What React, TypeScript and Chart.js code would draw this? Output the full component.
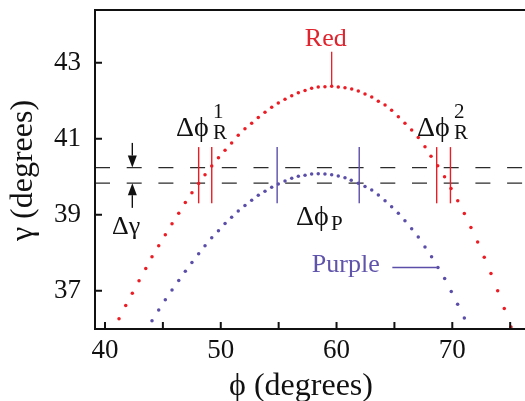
import { useEffect, useRef } from "react";
import { Chart, registerables } from "chart.js";

Chart.register(...registerables);

// ---- data ----
const redPhi = [
  41.21, 41.79, 42.36, 42.94, 43.52, 44.06, 44.64, 45.21, 45.79, 46.37,
  46.94, 47.51, 48.09, 48.64, 49.22, 49.8, 50.37, 50.94, 51.51, 52.09,
  52.67, 53.24, 53.82, 54.4, 54.97, 55.55, 56.13, 56.7, 57.28, 57.85,
  58.42, 59.0, 59.58, 60.15, 60.73, 61.31, 61.88, 62.46, 63.04, 63.61,
  64.19, 64.76, 65.34, 65.91, 66.49, 67.06, 67.64, 68.16, 68.74, 69.33,
  69.89, 70.47, 71.04, 71.61, 72.19, 72.76, 73.34, 73.92, 74.49, 75.07,
];
const redGamma = [
  36.26, 36.61, 36.93, 37.26, 37.58, 37.89, 38.18, 38.47, 38.76, 39.04,
  39.32, 39.58, 39.82, 40.05, 40.28, 40.5, 40.7, 40.89, 41.09, 41.26,
  41.41, 41.56, 41.7, 41.83, 41.94, 42.04, 42.13, 42.21, 42.27, 42.33,
  42.36, 42.37, 42.38, 42.36, 42.34, 42.31, 42.26, 42.18, 42.1, 41.99,
  41.89, 41.75, 41.58, 41.41, 41.23, 41.03, 40.79, 40.54, 40.29, 40.0,
  39.69, 39.37, 39.03, 38.66, 38.28, 37.88, 37.45, 37.0, 36.53, 36.04,
];
const purplePhi = [
  44.06, 44.64, 45.21, 45.79, 46.37, 46.94, 47.51, 48.09, 48.64, 49.22,
  49.8, 50.37, 50.94, 51.51, 52.09, 52.67, 53.24, 53.82, 54.4, 54.97,
  55.55, 56.13, 56.7, 57.28, 57.85, 58.42, 59.0, 59.58, 60.15, 60.73,
  61.27, 61.88, 62.46, 63.04, 63.61, 64.19, 64.76, 65.34, 65.91, 66.49,
  67.06, 67.64, 68.21, 68.76, 69.34, 69.91, 70.46, 71.04,
];
const purpleGamma = [
  36.21, 36.49, 36.76, 37.02, 37.27, 37.51, 37.74, 37.97, 38.18, 38.39,
  38.58, 38.77, 38.93, 39.1, 39.24, 39.38, 39.51, 39.62, 39.72, 39.81,
  39.89, 39.96, 40.01, 40.04, 40.07, 40.08, 40.07, 40.05, 40.02, 39.97,
  39.91, 39.83, 39.74, 39.65, 39.52, 39.37, 39.21, 39.04, 38.84, 38.63,
  38.41, 38.15, 37.89, 37.61, 37.32, 36.98, 36.64, 36.28,
];

const xTickValues = [40, 45, 50, 55, 60, 65, 70, 75];
const xTickLabels = ["40", "", "50", "", "60", "", "70", ""];
const yTickValues = [37, 39, 41, 43];
const yTickLabels = ["37", "39", "41", "43"];

const bandLevels = [40.24, 39.83];
const redMarkers = [48.09, 49.22, 68.65, 69.84];
const purpleMarkers = [54.87, 61.96];
const markerSpan = [39.3, 40.78];
const arrowPhi = 42.36;
const arrowTails = [40.89, 39.18];

const RED = "#ec1c24";
const PURPLE = "#5a4ea8";
const SERIF = '"Liberation Serif", "Times New Roman", serif';
const PHI = "\u03d5";

function txt(ctx: CanvasRenderingContext2D, s: string, x: number, y: number, size: number, color: string, align: CanvasTextAlign = "left") {
  ctx.font = `${size}px ${SERIF}`;
  ctx.fillStyle = color;
  ctx.textAlign = align;
  ctx.textBaseline = "alphabetic";
  ctx.fillText(s, x, y);
}

function arrow(ctx: CanvasRenderingContext2D, x: number, y0: number, y1: number) {
  const dir = y1 > y0 ? 1 : -1;
  const head = 12;
  ctx.beginPath();
  ctx.moveTo(x, y0);
  ctx.lineTo(x, y1 - dir * head);
  ctx.stroke();
  ctx.beginPath();
  ctx.moveTo(x, y1);
  ctx.lineTo(x - 4.5, y1 - dir * head);
  ctx.lineTo(x + 4.5, y1 - dir * head);
  ctx.closePath();
  ctx.fill();
}

const overlay = {
  id: "overlay",
  beforeDatasetsDraw(chart: any) {
    const { ctx, chartArea: a, scales } = chart;
    const x = scales.x, y = scales.y;
    ctx.save();
    ctx.strokeStyle = "#2b2b2b";
    ctx.lineWidth = 1.3;
    ctx.setLineDash([15, 16.7]);
    bandLevels.forEach((v) => {
      const py = y.getPixelForValue(v);
      ctx.beginPath();
      ctx.moveTo(a.left, py);
      ctx.lineTo(a.right, py);
      ctx.stroke();
    });
    ctx.setLineDash([]);
    const y0 = y.getPixelForValue(markerSpan[0]);
    const y1 = y.getPixelForValue(markerSpan[1]);
    ctx.lineWidth = 1.4;
    const vline = (v: number, c: string) => {
      const px = x.getPixelForValue(v);
      ctx.strokeStyle = c;
      ctx.beginPath();
      ctx.moveTo(px, y0);
      ctx.lineTo(px, y1);
      ctx.stroke();
    };
    redMarkers.forEach((v) => vline(v, RED));
    purpleMarkers.forEach((v) => vline(v, PURPLE));
    // leader lines
    ctx.lineWidth = 1.3;
    ctx.strokeStyle = RED;
    ctx.beginPath();
    ctx.moveTo(x.getPixelForValue(59.58), y.getPixelForValue(43.29));
    ctx.lineTo(x.getPixelForValue(59.58), y.getPixelForValue(42.39));
    ctx.stroke();
    ctx.strokeStyle = PURPLE;
    ctx.beginPath();
    ctx.moveTo(x.getPixelForValue(64.82), y.getPixelForValue(37.61));
    ctx.lineTo(x.getPixelForValue(68.65), y.getPixelForValue(37.61));
    ctx.stroke();
    // arrows
    ctx.strokeStyle = "#111";
    ctx.fillStyle = "#111";
    ctx.lineWidth = 1.4;
    const ax = x.getPixelForValue(arrowPhi);
    arrow(ctx, ax, y.getPixelForValue(arrowTails[0]), y.getPixelForValue(bandLevels[0]));
    arrow(ctx, ax, y.getPixelForValue(arrowTails[1]), y.getPixelForValue(bandLevels[1]));
    ctx.restore();
  },
  afterDraw(chart: any) {
    const { ctx, chartArea: a, scales } = chart;
    const x = scales.x, y = scales.y;
    ctx.save();
    // frame
    ctx.strokeStyle = "#111";
    ctx.lineWidth = 2;
    ctx.beginPath();
    ctx.moveTo(a.left, a.top);
    ctx.lineTo(a.right, a.top);
    ctx.moveTo(a.left, a.top - 1);
    ctx.lineTo(a.left, a.bottom + 1);
    ctx.moveTo(a.left - 1, a.bottom);
    ctx.lineTo(a.right, a.bottom);
    ctx.stroke();
    // inward ticks
    const tl = 7;
    ctx.beginPath();
    x.ticks.forEach((t: any) => {
      const px = x.getPixelForValue(t.value);
      ctx.moveTo(px, a.bottom);
      ctx.lineTo(px, a.bottom - tl);
    });
    y.ticks.forEach((t: any) => {
      const py = y.getPixelForValue(t.value);
      ctx.moveTo(a.left, py);
      ctx.lineTo(a.left + tl, py);
    });
    ctx.stroke();

    // axis titles
    txt(ctx, PHI + " (degrees)", (a.left + a.right) / 2 - 9, chart.height - 6, 32, "#111", "center");
    ctx.save();
    ctx.translate(32, (a.top + a.bottom) / 2 + 1);
    ctx.rotate(-Math.PI / 2);
    txt(ctx, "\u03b3 (degrees)", 0, 0, 32, "#111", "center");
    ctx.restore();

    // series labels
    txt(ctx, "Red", x.getPixelForValue(59.07), y.getPixelForValue(43.44), 26, "#e0242e", "center");
    txt(ctx, "Purple", x.getPixelForValue(60.8), y.getPixelForValue(37.49), 26, "#5f53ab", "center");

    // delta labels
    const dphi = (px: number, py: number, sup: string, sub: string) => {
      txt(ctx, "\u0394" + PHI, px, py, 28, "#111");
      if (sup) txt(ctx, sup, px + 37, py - 18, 21, "#111");
      if (sub) txt(ctx, sub, px + 37, py + 3, 21, "#111");
    };
    dphi(x.getPixelForValue(46.13), y.getPixelForValue(41.07), "1", "R");
    dphi(x.getPixelForValue(66.95), y.getPixelForValue(41.07), "2", "R");
    const pX = x.getPixelForValue(56.5), pY = y.getPixelForValue(38.73);
    txt(ctx, "\u0394" + PHI, pX, pY, 28, "#111");
    txt(ctx, "P", pX + 35, pY + 5, 21, "#111");
    txt(ctx, "\u0394\u03b3", x.getPixelForValue(40.6), y.getPixelForValue(38.49), 26, "#111");
    ctx.restore();
  },
};

export default function App() {
  const ref = useRef<HTMLCanvasElement | null>(null);
  useEffect(() => {
    if (!ref.current) return;
    const chart = new Chart(ref.current, {
      type: "scatter",
      data: {
        datasets: [
          {
            label: "Red",
            data: redPhi.map((v, i) => ({ x: v, y: redGamma[i] })),
            pointRadius: 1.75,
            pointBackgroundColor: RED,
            pointBorderWidth: 0,
            borderWidth: 0,
            showLine: false,
            clip: 0,
          },
          {
            label: "Purple",
            data: purplePhi.map((v, i) => ({ x: v, y: purpleGamma[i] })),
            pointRadius: 1.75,
            pointBackgroundColor: PURPLE,
            pointBorderWidth: 0,
            borderWidth: 0,
            showLine: false,
            clip: 0,
          },
        ],
      },
      options: {
        animation: false,
        responsive: true,
        maintainAspectRatio: false,
        layout: { autoPadding: false, padding: { top: 10, right: 0, left: 0, bottom: 0 } },
        plugins: { legend: { display: false }, tooltip: { enabled: false } },
        scales: {
          x: {
            type: "linear",
            min: 39.136,
            max: 76.28,
            grid: { display: false, drawTicks: false },
            border: { display: false },
            afterBuildTicks: (s: any) => {
              s.ticks = xTickValues.map((v) => ({ value: v }));
            },
            afterFit: (s: any) => {
              s.height = 72;
              s.paddingLeft = 0;
              s.paddingRight = 0;
            },
            ticks: {
              autoSkip: false,
              maxRotation: 0,
              padding: 6,
              color: "#111",
              font: { family: SERIF, size: 27 },
              callback: (_v: any, i: number) => xTickLabels[i],
            },
          },
          y: {
            type: "linear",
            min: 35.99,
            max: 44.39,
            grid: { display: false, drawTicks: false },
            border: { display: false },
            afterBuildTicks: (s: any) => {
              s.ticks = yTickValues.map((v) => ({ value: v }));
            },
            afterFit: (s: any) => {
              s.width = 95;
              s.paddingTop = 0;
              s.paddingBottom = 0;
            },
            ticks: {
              padding: 14,
              color: "#111",
              font: { family: SERIF, size: 27 },
              callback: (_v: any, i: number) => yTickLabels[i],
            },
          },
        },
      },
      plugins: [overlay],
    });
    return () => chart.destroy();
  }, []);
  return (
    <div style={{ position: "fixed", left: 0, top: 0, width: 525, height: 401, background: "#fff" }}>
      <canvas ref={ref} />
    </div>
  );
}
